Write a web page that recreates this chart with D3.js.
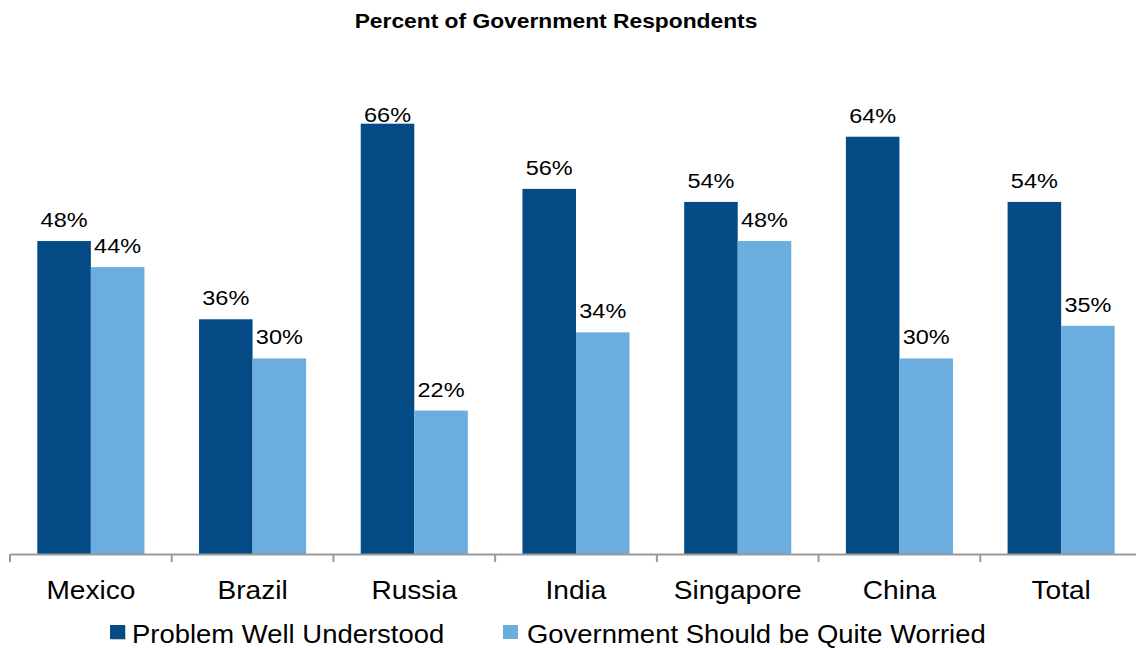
<!DOCTYPE html>
<html>
<head>
<meta charset="utf-8">
<script src="https://cdn.jsdelivr.net/npm/d3@7/dist/d3.min.js"></script>
<style>
  html, body { margin: 0; padding: 0; background: #fff; }
  svg { display: block; font-family: "Liberation Sans", Arial, sans-serif; }
</style>
</head>
<body>
<svg id="chart" width="1136" height="649"></svg>
<script>
// Survey results by country
const categories = ["Mexico", "Brazil", "Russia", "India", "Singapore", "China", "Total"];
const seriesNames = ["Problem Well Understood", "Government Should be Quite Worried"];
const wellUnderstood = [48, 36, 66, 56, 54, 64, 54];
const quiteWorried = [44, 30, 22, 34, 48, 30, 35];
const titleText = "Percent of Government Respondents";

const colors = ["#044b85", "#6cade0"];
const seriesValues = [wellUnderstood, quiteWorried];

const svg = d3.select("#chart");
const W = 1136, H = 649;

const baseY = 554;
const x0 = d3.scaleBand().domain(categories).range([10, 1142]).paddingInner(0).paddingOuter(0);
const x1 = d3.scaleBand().domain(seriesNames).range([0, x0.bandwidth()]).paddingInner(0).paddingOuter(0.51);
const y = d3.scaleLinear().domain([0, 70]).range([baseY, baseY - 70 * 6.52]);
const labelTop = 121.7; // value labels stay inside the plot area

// helper: horizontally widened text
function addText(parent, x, yy, txt, size, sx, weight) {
  return parent.append("text")
    .attr("transform", `translate(${x},${yy}) scale(${sx},1)`)
    .attr("text-anchor", "middle")
    .attr("font-size", size)
    .attr("font-weight", weight || "normal")
    .attr("fill", "#000")
    .text(txt);
}

// title
addText(svg, 556, 27.7, titleText, 20, 1.14, "bold");

// bars
const rows = categories.map((c, i) => ({ cat: c, vals: seriesNames.map((s, j) => ({ s, j, v: seriesValues[j][i] })) }));
const groups = svg.append("g").selectAll("g").data(rows).join("g")
  .attr("transform", d => `translate(${x0(d.cat)},0)`);

groups.selectAll("rect").data(d => d.vals).join("rect")
  .attr("x", d => x1(d.s))
  .attr("width", x1.bandwidth())
  .attr("y", d => y(d.v))
  .attr("height", d => baseY - y(d.v))
  .attr("fill", d => colors[d.j]);

groups.each(function (d) {
  const g = d3.select(this);
  d.vals.forEach(v => {
    addText(g, x1(v.s) + x1.bandwidth() / 2, Math.max(y(v.v) - 14, labelTop), v.v + "%", 21, 1.12);
  });
});

// category axis
const axis = svg.append("g").attr("transform", `translate(0,${baseY})`)
  .call(d3.axisBottom(x0).tickSize(0).tickFormat(""));
axis.select(".domain").attr("stroke", "#9a9a9a").attr("stroke-width", 2);
axis.selectAll(".tick").remove();

// boundary ticks between categories
const bounds = categories.map(c => x0(c)).concat([x0.range()[1]]);
svg.append("g").selectAll("line").data(bounds).join("line")
  .attr("x1", d => d).attr("x2", d => d)
  .attr("y1", baseY).attr("y2", baseY + 8)
  .attr("stroke", "#9a9a9a").attr("stroke-width", 2);

// category labels
categories.forEach(c => {
  addText(svg, x0(c) + x0.bandwidth() / 2, 599, c, 26, 1.08);
});

// legend
const legendItems = [
  { name: seriesNames[0], color: colors[0], mx: 110, tx: 132 },
  { name: seriesNames[1], color: colors[1], mx: 503, tx: 527 }
];
legendItems.forEach((it, i) => {
  if (i === 0) {
    svg.append("rect").attr("x", it.mx + 1).attr("y", 626).attr("width", 15).attr("height", 14)
      .attr("fill", "#c8c8c8");
  }
  svg.append("rect").attr("x", it.mx).attr("y", 625).attr("width", 15).attr("height", 14)
    .attr("fill", it.color);
  svg.append("text")
    .attr("transform", `translate(${it.tx},643) scale(1.077,1)`)
    .attr("font-size", 25.5)
    .attr("fill", "#000")
    .text(it.name);
});
</script>
</body>
</html>
